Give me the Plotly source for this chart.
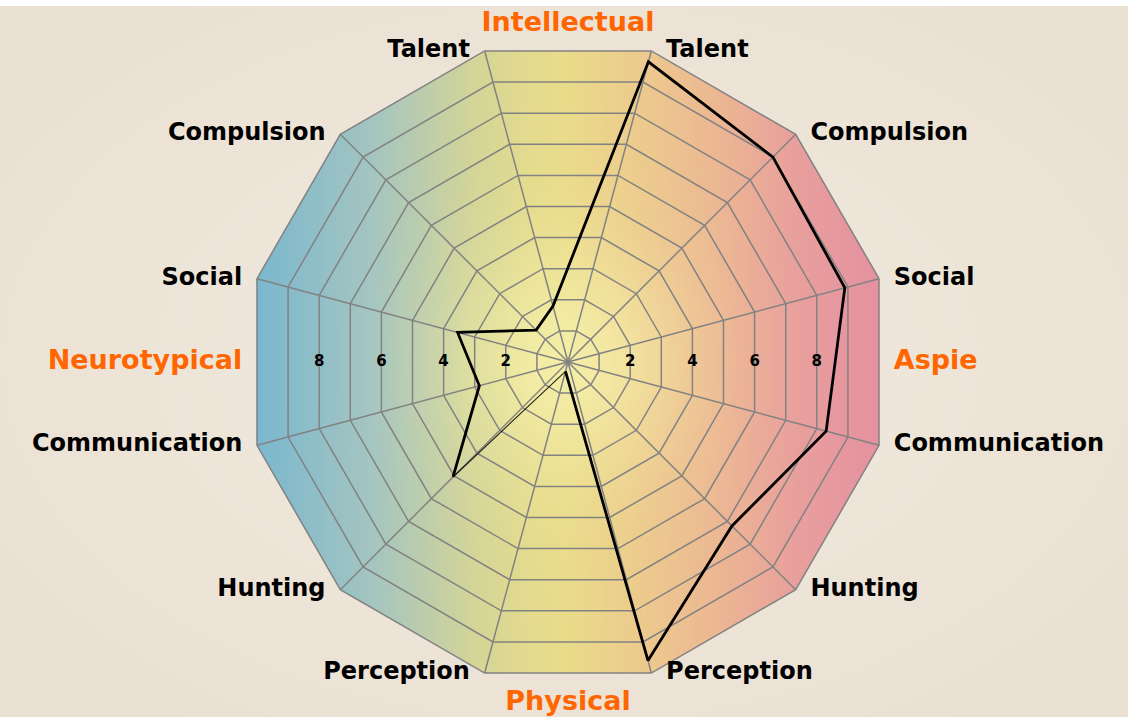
import base64
import struct
import zlib

import numpy as np
import plotly.graph_objects as go

# ---------------- data ----------------
categories_right = ["Talent", "Compulsion", "Social", "Communication", "Hunting", "Perception"]
categories_left = ["Talent", "Compulsion", "Social", "Communication", "Hunting", "Perception"]
theta_right = [75, 45, 15, 345, 315, 285]
theta_left = [105, 135, 165, 195, 225, 255]
aspie_values = [9.65, 9.0, 8.9, 8.3, 7.2, 9.6]          # right half
neurotypical_values = [1.8, 1.4, 3.55, 2.85, 5.05, 0.3]  # left half
tick_values = [2, 4, 6, 8]
tick_labels = ["2", "4", "6", "8"]
group_labels = ["Intellectual", "Aspie", "Physical", "Neurotypical"]
group_theta = [90, 0, 270, 180]
r_max = 10
r_axis_max = 11

# ---------------- geometry ----------------
W, H = 1128, 717
CX, CY, R = 568.0, 362.0, 322.0
COS15 = np.cos(np.radians(15))
R_DOM = R * r_axis_max / r_max

# ---------------- background image (pure decoration) ----------------
yy, xx = np.mgrid[0:H, 0:W].astype(float)
xx += 0.5
yy += 0.5
dx = xx - CX
dy = CY - yy

ap = R * COS15
sd = np.full((H, W), -1e9)
for k in range(12):
    a = np.radians(30 * k)
    sd = np.maximum(sd, dx * np.cos(a) + dy * np.sin(a) - ap)
alpha = np.clip(0.5 - sd, 0, 1)[..., None]

# paper background: beige with a lighter centre
ex = (xx - CX) / (W * 0.62)
ey = (yy - CY) / (H * 0.62)
t = np.clip(np.sqrt(ex ** 2 + ey ** 2), 0, 1)[..., None]
bg_c = np.array([242, 235, 225], float)
bg_e = np.array([234, 224, 210], float)
bg = bg_c * (1 - t) + bg_e * t

# polygon gradient: blue -> yellow -> pink
u = dx / R
stops = [-1.0, -0.6, -0.3, -0.1, 0.0, 0.2, 0.45, 0.7, 1.0]
cols = np.array([
    [118, 182, 208],
    [165, 197, 192],
    [210, 212, 152],
    [229, 219, 140],
    [233, 219, 138],
    [236, 204, 140],
    [236, 184, 146],
    [232, 160, 156],
    [228, 143, 160],
], float)
poly = np.stack([np.interp(u, stops, cols[:, c]) for c in range(3)], axis=-1)
d = np.sqrt(dx ** 2 + dy ** 2) / R
wgt = (0.72 * np.exp(-(d / 0.34) ** 2))[..., None]
poly = poly * (1 - wgt) + np.array([248, 244, 176], float) * wgt

img = bg * (1 - alpha) + poly * alpha
img[:6, :, :] = 255
img = np.clip(np.round(img), 0, 255).astype(np.int16)


def png_bytes(arr):
    h, w, _ = arr.shape
    sub = arr.copy()
    sub[:, 1:, :] = (arr[:, 1:, :] - arr[:, :-1, :]) % 256
    raw = np.concatenate(
        [np.ones((h, 1), np.uint8), sub.astype(np.uint8).reshape(h, w * 3)], axis=1
    ).tobytes()

    def chunk(tag, data):
        return struct.pack(">I", len(data)) + tag + data + struct.pack(">I", zlib.crc32(tag + data) & 0xFFFFFFFF)

    ihdr = struct.pack(">IIBBBBB", w, h, 8, 2, 0, 0, 0)
    return b"\x89PNG\r\n\x1a\n" + chunk(b"IHDR", ihdr) + chunk(b"IDAT", zlib.compress(raw, 9)) + chunk(b"IEND", b"")


src = "data:image/png;base64," + base64.b64encode(png_bytes(img)).decode()

# ---------------- figure ----------------
fig = go.Figure()

vertex_theta = [15 + 30 * k for k in range(12)]
GRID = "rgb(130,130,130)"

# rings
ring_r, ring_t = [], []
for k in range(1, r_max + 1):
    ring_r += [k] * 13 + [None]
    ring_t += vertex_theta + [vertex_theta[0], None]
fig.add_trace(go.Scatterpolar(r=ring_r, theta=ring_t, mode="lines",
                              line=dict(color=GRID, width=1.5), hoverinfo="skip", showlegend=False))
# spokes
sp_r, sp_t = [], []
for th in vertex_theta:
    sp_r += [0, r_max, None]
    sp_t += [th, th, None]
fig.add_trace(go.Scatterpolar(r=sp_r, theta=sp_t, mode="lines",
                              line=dict(color=GRID, width=1.5), hoverinfo="skip", showlegend=False))

# data line (thick part)
thick_r = neurotypical_values[4::-1] + aspie_values + [neurotypical_values[5]]
thick_t = theta_left[4::-1] + theta_right + [theta_left[5]]
fig.add_trace(go.Scatterpolar(r=thick_r, theta=thick_t, mode="lines",
                              line=dict(color="black", width=2.8), hoverinfo="skip", showlegend=False))
# thin closing segment
fig.add_trace(go.Scatterpolar(r=[neurotypical_values[5], neurotypical_values[4]],
                              theta=[theta_left[5], theta_left[4]], mode="lines",
                              line=dict(color="rgba(0,0,0,0.85)", width=1.1), hoverinfo="skip", showlegend=False))

LABEL_FONT = dict(family="DejaVu Sans", size=24, color="black", weight="bold")
ORANGE_FONT = dict(family="DejaVu Sans", size=27, color="#ff6600", weight="bold")

fig.add_trace(go.Scatterpolar(r=[r_max] * 6, theta=theta_right, text=categories_right,
                              mode="markers+text", marker=dict(size=22, opacity=0),
                              textposition="middle right", textfont=LABEL_FONT,
                              cliponaxis=False, hoverinfo="skip", showlegend=False))
fig.add_trace(go.Scatterpolar(r=[r_max] * 6, theta=theta_left, text=categories_left,
                              mode="markers+text", marker=dict(size=22, opacity=0),
                              textposition="middle left", textfont=LABEL_FONT,
                              cliponaxis=False, hoverinfo="skip", showlegend=False))

# tick labels on both sides of the horizontal axis
tick_r = [v * COS15 for v in tick_values]
TICK_FONT = dict(family="DejaVu Sans", size=15, color="black", weight="bold")
fig.add_trace(go.Scatterpolar(r=tick_r, theta=[0] * 4, text=tick_labels, mode="text",
                              textposition="middle center", textfont=TICK_FONT,
                              cliponaxis=False, hoverinfo="skip", showlegend=False))
fig.add_trace(go.Scatterpolar(r=tick_r, theta=[180] * 4, text=tick_labels, mode="text",
                              textposition="middle center", textfont=TICK_FONT,
                              cliponaxis=False, hoverinfo="skip", showlegend=False))

# orange group labels
fig.add_trace(go.Scatterpolar(r=[10.5, 10.6], theta=[group_theta[0], group_theta[2]],
                              text=[group_labels[0], group_labels[2]], mode="text",
                              textposition="middle center", textfont=ORANGE_FONT,
                              cliponaxis=False, hoverinfo="skip", showlegend=False))
fig.add_trace(go.Scatterpolar(r=[r_max * COS15], theta=[group_theta[1]], text=[group_labels[1]],
                              mode="markers+text", marker=dict(size=22, opacity=0),
                              textposition="middle right", textfont=ORANGE_FONT,
                              cliponaxis=False, hoverinfo="skip", showlegend=False))
fig.add_trace(go.Scatterpolar(r=[r_max * COS15], theta=[group_theta[3]], text=[group_labels[3]],
                              mode="markers+text", marker=dict(size=22, opacity=0),
                              textposition="middle left", textfont=ORANGE_FONT,
                              cliponaxis=False, hoverinfo="skip", showlegend=False))

fig.update_layout(
    width=W, height=H,
    margin=dict(l=0, r=0, t=0, b=0),
    paper_bgcolor="white",
    plot_bgcolor="rgba(0,0,0,0)",
    showlegend=False,
    hovermode=False,
    images=[dict(source=src, xref="paper", yref="paper", x=0, y=1, sizex=1, sizey=1,
                 xanchor="left", yanchor="top", sizing="stretch", layer="below")],
    polar=dict(
        domain=dict(x=[(CX - R_DOM) / W, (CX + R_DOM) / W],
                    y=[(H - CY - R_DOM) / H, (H - CY + R_DOM) / H]),
        bgcolor="rgba(0,0,0,0)",
        radialaxis=dict(range=[0, r_axis_max], visible=False),
        angularaxis=dict(visible=False, rotation=0, direction="counterclockwise"),
    ),
)

fig.write_html("out.html", config={"displayModeBar": False},
               post_script="document.body.style.margin='0';")
